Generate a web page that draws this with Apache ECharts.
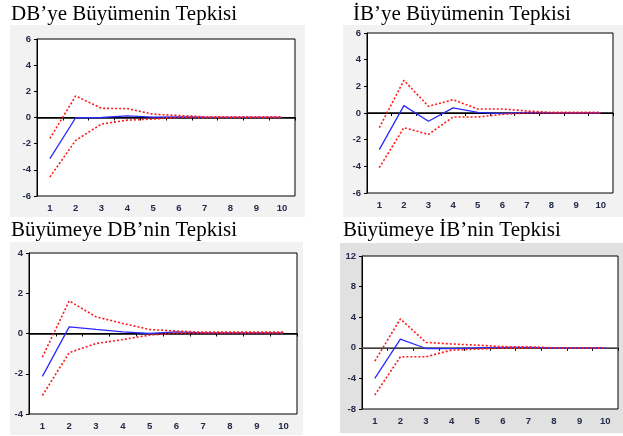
<!DOCTYPE html>
<html><head><meta charset="utf-8">
<script src="https://cdn.jsdelivr.net/npm/echarts@6/dist/echarts.min.js"></script>
<style>html,body{margin:0;padding:0;background:#fff}#c{width:623px;height:436px}</style>
</head><body><div id="c"></div>
<script>
const periods = ['1','2','3','4','5','6','7','8','9','10'];

const titles = ["DB’ye Büyümenin Tepkisi", "İB’ye Büyümenin Tepkisi", "Büyümeye DB’nin Tepkisi", "Büyümeye İB’nin Tepkisi"];

// Panel 1: DB'ye Büyümenin Tepkisi
const p1Resp  = [-3.15, -0.02, 0.00, 0.12, 0.03, 0.05, 0.02, 0.01, 0.01, 0.01];
const p1Upper = [-1.60, 1.65, 0.70, 0.68, 0.25, 0.15, 0.06, 0.05, 0.05, 0.05];
const p1Lower = [-4.55, -1.75, -0.50, -0.20, -0.12, 0.02, 0.00, 0.00, 0.00, 0.00];

// Panel 2: İB'ye Büyümenin Tepkisi
const p2Resp  = [-2.75, 0.55, -0.62, 0.38, 0.05, -0.05, 0.05, 0.02, 0.02, 0.02];
const p2Upper = [-1.10, 2.45, 0.50, 1.00, 0.30, 0.30, 0.15, 0.05, 0.05, 0.05];
const p2Lower = [-4.10, -1.10, -1.60, -0.30, -0.30, -0.10, 0.00, 0.00, 0.00, 0.00];

// Panel 3: Büyümeye DB'nin Tepkisi
const p3Resp  = [-2.13, 0.33, 0.20, 0.08, 0.00, 0.08, 0.03, 0.03, 0.03, 0.03];
const p3Upper = [-1.17, 1.62, 0.83, 0.50, 0.20, 0.12, 0.07, 0.07, 0.07, 0.07];
const p3Lower = [-3.08, -0.95, -0.50, -0.30, -0.08, 0.02, 0.02, 0.02, 0.02, 0.02];

// Panel 4: Büyümeye İB'nin Tepkisi
const p4Resp  = [-4.00, 1.13, -0.09, -0.10, 0.00, 0.05, 0.05, 0.00, 0.00, 0.00];
const p4Upper = [-1.74, 3.78, 0.70, 0.50, 0.35, 0.15, 0.13, 0.00, 0.00, 0.00];
const p4Lower = [-6.17, -1.17, -1.17, -0.30, -0.17, -0.02, 0.00, 0.00, 0.00, 0.00];

const yTicks = [
  {min:-6, max:6, interval:2},
  {min:-6, max:6, interval:2},
  {min:-4, max:4, interval:2},
  {min:-8, max:12, interval:4}
];

const panels = [
  {resp:p1Resp, up:p1Upper, lo:p1Lower},
  {resp:p2Resp, up:p2Upper, lo:p2Lower},
  {resp:p3Resp, up:p3Upper, lo:p3Lower},
  {resp:p4Resp, up:p4Upper, lo:p4Lower}
];

// layout
const grids = [
  {left:37, top:39, width:258, height:157},
  {left:367, top:33, width:246, height:160},
  {left:29, top:253, width:268, height:161},
  {left:362, top:256, width:256, height:153}
];
const bgs = [
  {x:10, y:25, w:295, h:192, c:'#f2f2f2'},
  {x:343, y:25, w:280, h:192, c:'#f2f2f2'},
  {x:10, y:242, w:293, h:193, c:'#f2f2f2'},
  {x:340, y:243, w:283, h:190, c:'#e1e1e1'}
];
const titlePos = [
  {left:11, top:4}, {left:353, top:4}, {left:11, top:220}, {left:343, top:220}
];
const zeroColors = ['#000','#000','#000','#555'];

const labelStyle = {fontFamily:'Liberation Sans', fontSize:9.5, fontWeight:'bold', color:'#232a48'};

const option = {
  animation:false,
  backgroundColor:'#fff',
  graphic: bgs.map(b => ({type:'rect', z:-10, silent:true, shape:{x:b.x,y:b.y,width:b.w,height:b.h}, style:{fill:b.c}})),
  title: titles.map((t,i)=>({text:t, left:titlePos[i].left, top:titlePos[i].top, padding:0,
    textStyle:{fontFamily:'Liberation Serif', fontSize:21, fontWeight:'normal', color:'#000'}})),
  grid: grids.map(g=>Object.assign({show:true, backgroundColor:'#fff', borderColor:'#000', borderWidth:1, containLabel:false}, g)),
  xAxis: grids.map((g,i)=>({
    type:'category', gridIndex:i, data:periods, boundaryGap:true,
    axisLine:{show:true, lineStyle:{color:'#000', width:1}},
    axisTick:{show:true, length:3, lineStyle:{color:'#000'}},
    axisLabel:Object.assign({margin:7, interval:0}, labelStyle),
    splitLine:{show:false}
  })),
  yAxis: grids.map((g,i)=>({
    type:'value', gridIndex:i, min:yTicks[i].min, max:yTicks[i].max, interval:yTicks[i].interval,
    axisLine:{show:true, lineStyle:{color:'#000', width:1}},
    axisTick:{show:true, length:3, lineStyle:{color:'#000'}},
    axisLabel:Object.assign({margin:6}, labelStyle),
    splitLine:{show:false}
  })),
  series: []
};

panels.forEach((p,i)=>{
  option.series.push({
    type:'line', xAxisIndex:i, yAxisIndex:i, data:p.resp, symbol:'none',
    lineStyle:{color:'#2a2aff', width:1.3}, z:3,
    markLine:{silent:true, symbol:'none', label:{show:false},
      lineStyle:{color:zeroColors[i], width:1.5, type:'solid'}, data:[{yAxis:0}], z:1}
  });
  [p.up, p.lo].forEach(d=>{
    option.series.push({
      type:'line', xAxisIndex:i, yAxisIndex:i, data:d, symbol:'none',
      lineStyle:{color:'#ff1a1a', width:1.6, type:[2,2]}, z:4
    });
  });
});

echarts.init(document.getElementById('c'), null, {renderer:'canvas'}).setOption(option);
</script>
</body></html>
